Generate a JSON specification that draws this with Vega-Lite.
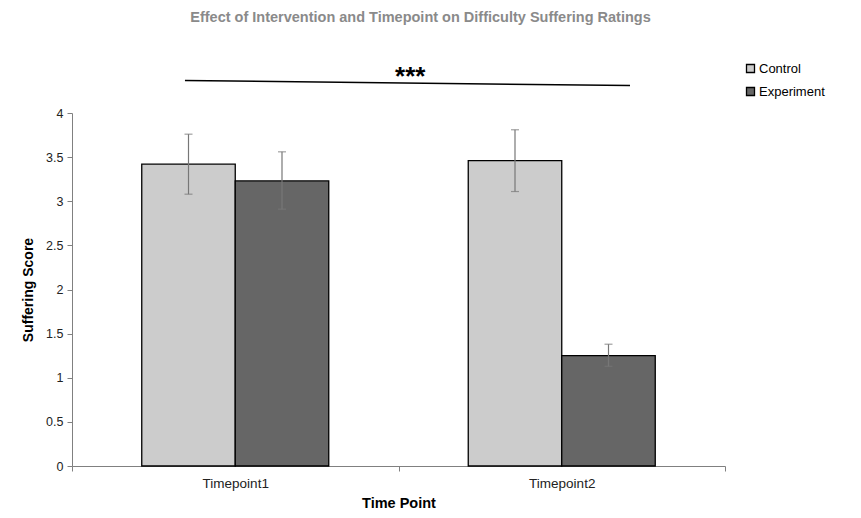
{
  "$schema": "https://vega.github.io/schema/vega-lite/v6.json",
  "autosize": {"type": "none"},
  "width": 653,
  "height": 353,
  "padding": {"left": 72, "top": 113, "right": 136, "bottom": 52},
  "background": "white",
  "title": {
    "text": "Effect of Intervention and Timepoint on Difficulty Suffering Ratings",
    "font": "Liberation Sans",
    "fontSize": 14.5,
    "fontWeight": "bold",
    "color": "#8a8a8a",
    "anchor": "middle",
    "frame": "group",
    "dx": 22,
    "offset": 37
  },
  "config": {
    "view": {"stroke": null},
    "font": "Liberation Sans",
    "axis": {
      "grid": false,
      "domainColor": "#808080",
      "tickColor": "#808080",
      "labelColor": "#222222",
      "labelFont": "Liberation Sans",
      "labelFontSize": 12.5,
      "titleFont": "Liberation Sans",
      "titleFontSize": 14,
      "titleFontWeight": "bold",
      "titleColor": "#000000",
      "tickSize": 5
    }
  },
  "datasets": {
    "bars": [
      {"timepoint": "Timepoint1", "group": "Control", "mean": 3.42, "lo": 3.08, "hi": 3.76},
      {"timepoint": "Timepoint1", "group": "Experiment", "mean": 3.23, "lo": 2.91, "hi": 3.56},
      {"timepoint": "Timepoint2", "group": "Control", "mean": 3.46, "lo": 3.11, "hi": 3.81},
      {"timepoint": "Timepoint2", "group": "Experiment", "mean": 1.25, "lo": 1.13, "hi": 1.38}
    ],
    "sig": [
      {"x1": 0.346, "x2": 1.709, "y1": 4.368, "y2": 4.311, "xt": 1.036, "yt": 4.32, "label": "***"}
    ]
  },
  "resolve": {"scale": {"x": "independent"}},
  "layer": [
    {
      "data": {"name": "bars"},
      "encoding": {
        "x": {
          "field": "timepoint",
          "type": "nominal",
          "sort": ["Timepoint1", "Timepoint2"],
          "scale": {"paddingInner": 0, "paddingOuter": 0},
          "axis": {"title": "Time Point", "labelAngle": 0, "tickBand": "extent", "labelFontSize": 13.5, "labelPadding": 5, "titlePadding": 7, "titleFontSize": 14.5}
        },
        "xOffset": {
          "field": "group",
          "type": "nominal",
          "sort": ["Control", "Experiment"],
          "scale": {"paddingInner": 0, "paddingOuter": 0.746}
        }
      },
      "layer": [
        {
          "mark": {"type": "bar", "stroke": "#000000", "strokeWidth": 1.3},
          "encoding": {
            "y": {
              "field": "mean",
              "type": "quantitative",
              "scale": {"domain": [0, 4], "nice": false},
              "axis": {"title": "Suffering Score", "values": [0, 0.5, 1, 1.5, 2, 2.5, 3, 3.5, 4], "labelExpr": "datum.value + ''", "titlePadding": 10, "labelPadding": 4}
            },
            "color": {
              "field": "group",
              "type": "nominal",
              "scale": {"domain": ["Control", "Experiment"], "range": ["#cccccc", "#666666"]},
              "legend": {
                "title": null,
                "orient": "none",
                "legendX": 672,
                "legendY": -51,
                "symbolType": "square",
                "symbolSize": 64,
                "symbolStrokeColor": "#000000",
                "symbolStrokeWidth": 1.3,
                "labelFont": "Liberation Sans",
                "labelFontSize": 13,
                "labelColor": "#000000",
                "labelOffset": 2,
                "rowPadding": 8
              }
            }
          }
        },
        {
          "mark": {"type": "rule", "color": "#777777", "strokeWidth": 1.2},
          "encoding": {
            "y": {"field": "lo", "type": "quantitative"},
            "y2": {"field": "hi"}
          }
        },
        {
          "mark": {"type": "tick", "color": "#777777", "size": 8, "thickness": 1.2, "orient": "horizontal"},
          "encoding": {"y": {"field": "lo", "type": "quantitative"}}
        },
        {
          "mark": {"type": "tick", "color": "#777777", "size": 8, "thickness": 1.2, "orient": "horizontal"},
          "encoding": {"y": {"field": "hi", "type": "quantitative"}}
        }
      ]
    },
    {
      "data": {"name": "sig"},
      "layer": [
        {
          "mark": {"type": "rule", "color": "#000000", "strokeWidth": 1.5},
          "encoding": {
            "x": {"field": "x1", "type": "quantitative", "scale": {"domain": [0, 2], "nice": false}, "axis": null},
            "x2": {"field": "x2"},
            "y": {"field": "y1", "type": "quantitative"},
            "y2": {"field": "y2"}
          }
        },
        {
          "mark": {"type": "text", "fontSize": 26, "fontWeight": "bold", "color": "#000000", "baseline": "alphabetic", "align": "center"},
          "encoding": {
            "x": {"field": "xt", "type": "quantitative", "scale": {"domain": [0, 2], "nice": false}, "axis": null},
            "y": {"field": "yt", "type": "quantitative"},
            "text": {"field": "label"}
          }
        }
      ]
    }
  ]
}
